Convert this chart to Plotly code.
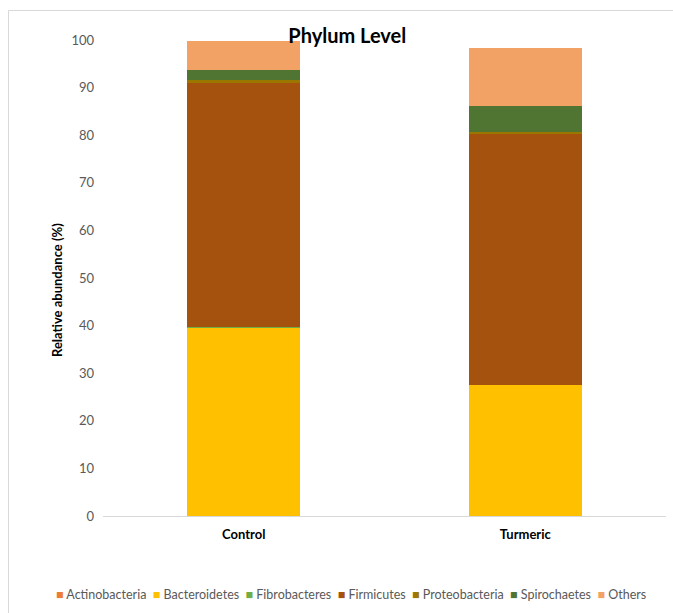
import plotly.graph_objects as go

# Sample groups and relative abundance (%) of each phylum
groups = ["Control", "Turmeric"]
phyla = ["Actinobacteria", "Bacteroidetes", "Fibrobacteres", "Firmicutes",
         "Proteobacteria", "Spirochaetes", "Others"]
actinobacteria = [0.1, 0.05]
bacteroidetes = [39.6, 27.55]
fibrobacteres = [0.1, 0.02]
firmicutes = [51.3, 52.73]
proteobacteria = [0.4, 0.4]
spirochaetes = [2.3, 5.3]
others = [6.0, 12.3]

series = [actinobacteria, bacteroidetes, fibrobacteres, firmicutes,
          proteobacteria, spirochaetes, others]
colors = ["#ED7D31", "#FFC000", "#70AD47", "#A6520F",
          "#9C7700", "#507533", "#F3A266"]

y_ticks = list(range(0, 101, 10))

FONT = "Lato, Calibri, Carlito, 'Open Sans', sans-serif"
GRAY = "#595959"

fig = go.Figure()
for name, vals, col in zip(phyla, series, colors):
    fig.add_trace(go.Bar(
        x=groups, y=vals, name=name,
        marker=dict(color=col, line=dict(width=0)),
        width=0.4, showlegend=False,
    ))

# Compact one-line legend: coloured square followed by the phylum name
legend_text = "&nbsp;&nbsp;".join(
    f"<span style='color:{c}'>■</span>&nbsp;{n}" for n, c in zip(phyla, colors)
)

fig.update_layout(
    barmode="stack",
    width=673, height=613,
    margin=dict(l=103, r=7, t=40, b=97),
    paper_bgcolor="white", plot_bgcolor="white",
    font=dict(family=FONT, color=GRAY),
    title=dict(text="<b>Phylum Level</b>", x=0.516, xanchor="center",
               y=1 - 36 / 613, yanchor="middle",
               font=dict(family=FONT, size=20, color="#000000")),
    xaxis=dict(
        showgrid=False, zeroline=False,
        showline=True, linecolor="#D9D9D9", linewidth=1,
        ticks="", tickfont=dict(family=FONT, size=13, color="#000000"),
        tickvals=groups, ticktext=[f"<b>{g}</b>" for g in groups],
        ticklabelstandoff=6,
        range=[-0.5, 1.5],
    ),
    yaxis=dict(
        range=[0, 100], tickvals=y_ticks,
        showgrid=False, zeroline=False, showline=False, ticks="",
        tickfont=dict(family=FONT, size=13, color=GRAY),
        ticklabelstandoff=8,
    ),
    annotations=[
        dict(text="<b>Relative abundance (%)</b>", textangle=-90,
             xref="paper", yref="paper", x=(57 - 103) / 563,
             y=(516 - 290) / 476, xanchor="center", yanchor="middle",
             showarrow=False, font=dict(family=FONT, size=13, color="#000000")),
        dict(text=legend_text, xref="paper", yref="paper",
             x=(351 - 103) / 563, y=(516 - 594) / 476,
             xanchor="center", yanchor="middle", showarrow=False,
             font=dict(family=FONT, size=12.5, color=GRAY)),
    ],
    shapes=[
        # light chart-area frame
        dict(type="rect", xref="paper", yref="paper",
             x0=(8.5 - 103) / 563, x1=(700 - 103) / 563,
             y0=(516 - 640) / 476, y1=(516 - 10.5) / 476,
             line=dict(color="#D9D9D9", width=1), layer="below"),
    ],
)

fig.write_html("out.html")
